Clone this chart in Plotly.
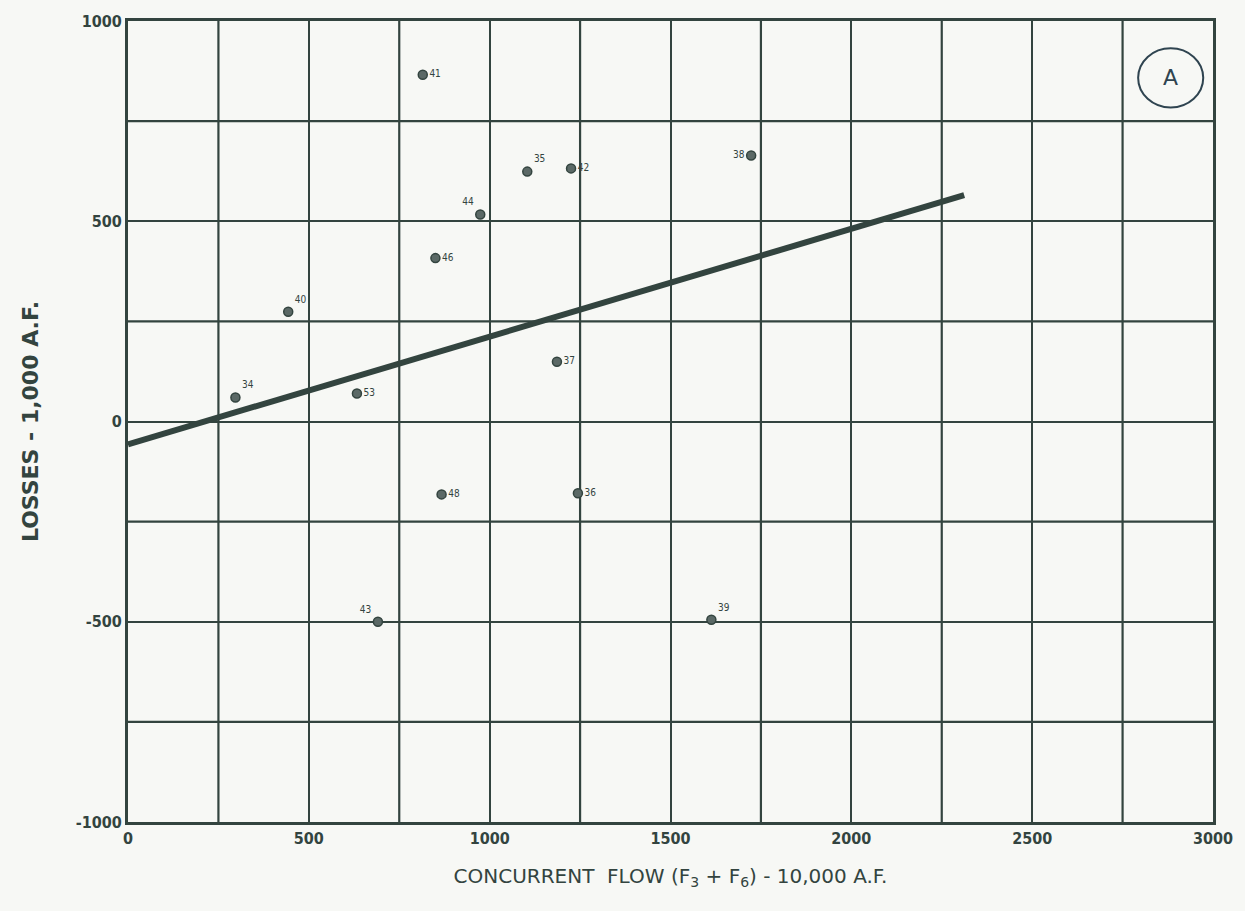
import plotly.graph_objects as go

# Data
years = ["34", "40", "53", "41", "35", "42", "38", "44", "46", "37", "48", "36", "43", "39"]
flow = [297, 443, 633, 815, 1104, 1225, 1723, 974, 850, 1186, 867, 1244, 691, 1613]
losses = [60, 274, 70, 866, 624, 632, 664, 517, 408, 149, -182, -179, -500, -495]
label_pos = ["top right", "top right", "middle right", "middle right", "top right", "middle right",
             "middle left", "top left", "middle right", "middle right", "middle right", "middle right",
             "top left", "top right"]

fit_x = [0, 2312]
fit_y = [-57, 565]

x_ticks = [0, 500, 1000, 1500, 2000, 2500, 3000]
y_ticks = [-1000, -500, 0, 500, 1000]

INK = "#33443f"
BG = "#f7f8f5"

fig = go.Figure()
fig.add_trace(go.Scatter(x=fit_x, y=fit_y, mode="lines",
                         line=dict(color=INK, width=6), showlegend=False, hoverinfo="skip"))
fig.add_trace(go.Scatter(x=flow, y=losses, mode="markers+text", text=years,
                         textposition=label_pos,
                         textfont=dict(family="DejaVu Sans Condensed", size=10, color=INK),
                         marker=dict(size=9, color="#5b6966", line=dict(color=INK, width=1.5)),
                         showlegend=False))

fig.add_shape(type="circle", xref="paper", yref="paper",
              x0=0.931, x1=0.991, y0=0.892, y1=0.966, line=dict(color="#2f4450", width=2))
fig.add_annotation(x=0.961, y=0.929, xref="paper", yref="paper", text="A", showarrow=False,
                   xanchor="center", yanchor="middle",
                   font=dict(family="DejaVu Sans", size=22, color="#2f4450"))

axis_font = dict(family="DejaVu Sans Condensed", size=16, color=INK, weight="bold")
fig.update_xaxes(range=[0, 3000], tickvals=x_ticks, ticktext=[str(v) for v in x_ticks],
                 showgrid=True, gridcolor=INK, gridwidth=2.2,
                 showline=True, linecolor=INK, linewidth=3, mirror=True, zeroline=False,
                 tickfont=axis_font, ticks="",
                 title=dict(text="CONCURRENT  FLOW (F<sub>3</sub> + F<sub>6</sub>) - 10,000 A.F.",
                            font=dict(family="DejaVu Sans", size=20, color=INK),
                            standoff=22))
fig.update_yaxes(range=[-1000, 1000], tickvals=y_ticks, ticktext=[str(v) for v in y_ticks],
                 showgrid=True, gridcolor=INK, gridwidth=2.2,
                 showline=True, linecolor=INK, linewidth=3, mirror=True, zeroline=False,
                 tickfont=axis_font, ticks="",
                 title=dict(text="LOSSES - 1,000 A.F.",
                            font=dict(family="DejaVu Sans", size=22, color=INK, weight="bold"),
                            standoff=32))

# minor grid at 250 spacing
for v in [250, 750, 1250, 1750, 2250, 2750]:
    fig.add_shape(type="line", x0=v, x1=v, y0=-1000, y1=1000, line=dict(color=INK, width=2.2), layer="below")
for v in [-750, -250, 250, 750]:
    fig.add_shape(type="line", x0=0, x1=3000, y0=v, y1=v, line=dict(color=INK, width=2.2), layer="below")

fig.update_layout(width=1245, height=911, paper_bgcolor=BG, plot_bgcolor=BG,
                  margin=dict(l=128, r=27, t=18, b=89))
fig.write_html("out.html")
